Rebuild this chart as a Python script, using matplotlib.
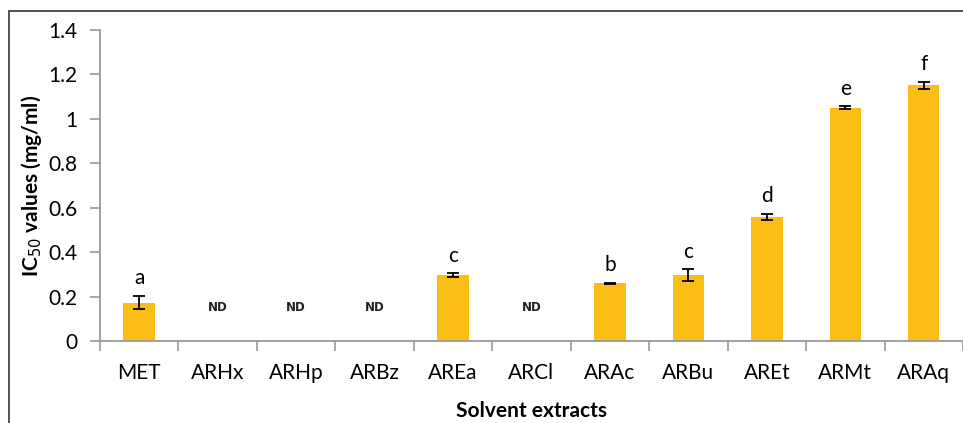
import numpy as np
import matplotlib.pyplot as plt
from matplotlib.patches import Rectangle

plt.rcParams['font.family'] = ['Lato', 'DejaVu Sans']

# 数据
extracts = ['MET', 'ARHx', 'ARHp', 'ARBz', 'AREa', 'ARCl', 'ARAc', 'ARBu', 'AREt', 'ARMt', 'ARAq']
ic50 = [0.172, 0, 0, 0, 0.297, 0, 0.26, 0.296, 0.558, 1.05, 1.151]
err = [0.03, 0, 0, 0, 0.007, 0, 0.003, 0.026, 0.014, 0.006, 0.016]
letters = ['a', 'ND', 'ND', 'ND', 'c', 'ND', 'b', 'c', 'd', 'e', 'f']

fig = plt.figure(figsize=(9.63, 4.23), dpi=100)
ax = fig.add_axes([0.1038, 0.1939, 0.8962, 0.7351])

x = np.arange(len(extracts))
has_val = [v > 0 for v in ic50]
xv = [x[i] for i in range(len(x)) if has_val[i]]
yv = [ic50[i] for i in range(len(x)) if has_val[i]]
ev = [err[i] for i in range(len(x)) if has_val[i]]
ax.bar(xv, yv, width=0.4, color='#FBBE16', zorder=2)
ax.errorbar(xv, yv, yerr=ev, fmt='none', ecolor='black', elinewidth=1.3,
            capsize=4, capthick=1.3, zorder=3)

for i in range(len(x)):
    if letters[i] == 'ND':
        ax.text(x[i], 0.15, 'ND', ha='center', va='center', fontsize=8.5,
                fontweight='bold', family='DejaVu Sans', color='#222222')
    else:
        ax.text(x[i], ic50[i] + err[i] + 0.035, letters[i], ha='center', va='bottom',
                fontsize=15)

ax.set_xlim(-0.5, 10.466)
ax.set_ylim(0, 1.4)
ax.set_yticks(np.arange(0, 1.41, 0.2))
ax.set_yticklabels(['0', '0.2', '0.4', '0.6', '0.8', '1', '1.2', '1.4'], fontsize=15)
ax.set_xticks(x)
ax.set_xticklabels(extracts, fontsize=15)
ax.set_xticks(np.arange(-0.5, 10.6, 1), minor=True)
ax.tick_params(axis='x', which='major', length=0, pad=16)
ax.tick_params(axis='x', which='minor', length=7, color='#999999', width=1.2)
ax.tick_params(axis='y', length=7, color='#999999', width=1.2, pad=9)

for s in ['top', 'right']:
    ax.spines[s].set_visible(False)
for s in ['left', 'bottom']:
    ax.spines[s].set_color('#999999')
    ax.spines[s].set_linewidth(1.3)

ax.set_ylabel('IC$_{50}$ values (mg/ml)', fontsize=15, fontweight='bold', labelpad=3)
ax.set_xlabel('Solvent extracts', fontsize=15, fontweight='bold', labelpad=13)

fig.patches.append(Rectangle((9 / 963, -0.1), 1.2, 1 - 11 / 423 + 0.1,
                             transform=fig.transFigure, fill=False,
                             edgecolor='#333333', linewidth=1.2))

fig.savefig('out.png', dpi=100)
